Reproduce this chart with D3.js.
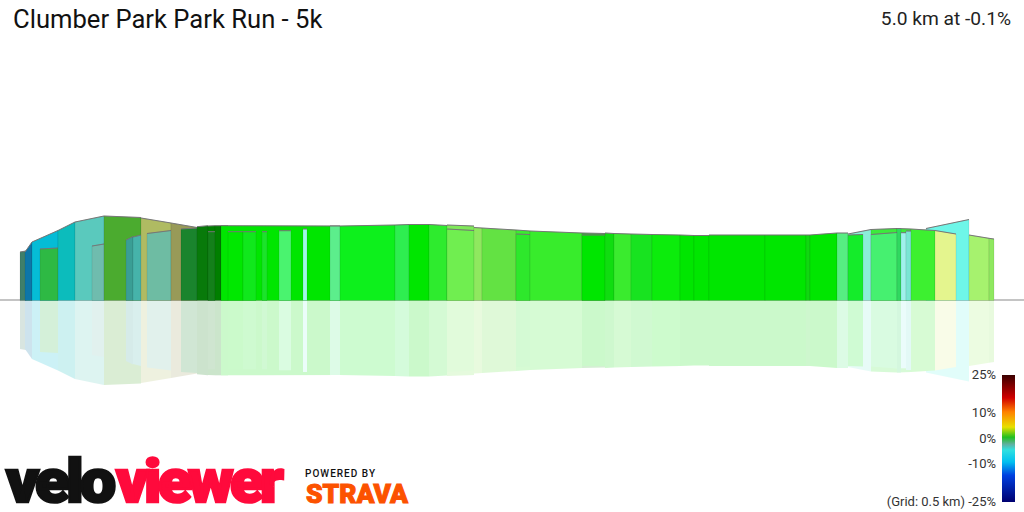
<!DOCTYPE html>
<html><head><meta charset="utf-8">
<script src="https://cdn.jsdelivr.net/npm/d3@7"></script>
<style>
@font-face{font-family:"LogoBlack";src:local("Roboto Black"),local("Roboto-Black"),local("Roboto");font-weight:900;ascent-override:75%;descent-override:5%;line-gap-override:0%}
html,body{margin:0;background:#fff}svg{display:block}text,div{font-family:Roboto,sans-serif}
.logo{position:absolute;white-space:nowrap;transform-origin:0 50%;font-family:"LogoBlack",Roboto,sans-serif;font-weight:900;font-size:60px;line-height:50px;height:50px}</style>
</head><body><svg id="c" width="1024" height="512"></svg>
<script>
// Panels, back to front. Positions are along-route units, heights in profile units.
const panelStart = [926,20,26,25,32,40,58,75,92,104,126,133,141,147,171,181,197,208,208,215,221,221,228,243,262,279,303,330,340,395,409,429,447,447,474,482,516,516,530,582,582,605,614,631,652,680,694,709,765,806,810,837,848,848,871,871,897,897,901,906,911,935,969,989];
const panelEnd   = [969,26,32,32,58,58,75,104,104,141,133,141,171,171,197,197,208,215,215,221,228,340,243,256,267,291,307,340,395,409,429,447,474,474,482,516,530,530,582,605,605,614,631,652,680,694,709,765,806,810,837,848,871,863,897,897,911,901,906,911,935,956,989,994];
const topStart   = [72,48.5,49.5,48.5,58.5,51.5,70,78.5,54.5,84.5,60.5,63.5,82.5,67,77.5,71.5,73.8,74.5,68.8,74.8,74.8,74.8,68.8,68.8,68.8,69.8,71.5,74.5,74.5,75.5,76,76,75.5,71.5,73,72.5,70.5,66.5,69.5,67.5,65.5,67.5,67,66.5,66,65.5,65,65.5,65.5,65.5,65.5,67.5,66.5,65.5,71,66,72,72,67.8,69.5,71.5,70,65.5,62.2];
const topEnd     = [81,49.5,50.5,58.5,70,52.5,78.5,84.5,56.5,83,64,65.5,77.5,70,73,72.5,74.8,74.8,68.8,74.8,74.8,74.5,68.8,68.8,68.8,69.8,71.5,74.5,75.5,76,76,75,74.5,70,72.5,70.5,69.5,66,67.5,67,65.5,67,66.5,66,65.5,65,65,65.5,65.5,65.5,67.5,67.5,71,66,72,68,71.5,72,67.8,69.5,70,66.5,62.2,61.5];
const panelColor = ["#6ef6e8","#3f7f6a","#3dbb5f","#0d76a8","#05bcd6","#2eb944","#0cbcbc","#5ac9bd","#6fbcae","#4bab2f","#3a9e95","#46b3aa","#afbb62","#6ebca3","#989a58","#1a842d","#087a0a","#007f00","#13801a","#007f00","#00c900","#00e600","#00e800","#10e81c","#1be42a","#4af36f","#a0f8e8","#5cee8c","#0df01c","#2eee50","#00e600","#2eeb2e","#80e85a","#70ee50","#8fe85f","#63e243","#3aed2e","#2ee82c","#38ec2c","#2db32b","#00e600","#10dd10","#3aeb2e","#18e320","#0cec0c","#00e600","#00e600","#00e600","#00e600","#10d810","#00e600","#56ee82","#8aeed8","#14ec2a","#3cea3c","#46f070","#3cea3c","#30d860","#a0f2ec","#7ae6d4","#3df030","#e4f58e","#a6f26e","#8fe860"];

const legendValues = ["25%","10%","0%","-10%","(Grid: 0.5 km) -25%"];
const legendShare  = [0,0.30,0.50,0.70,1];
const barOffsets = [0,0.18,0.29,0.41,0.49,0.545,0.59,0.685,0.79,1];
const barColors  = ["#3a0000","#d00000","#ff8000","#e8e000","#20c020","#60b0a0","#30e0e0","#00c0f0","#0040e0","#000070"];

const titleText = "Clumber Park Park Run - 5k";
const summaryText = "5.0 km at -0.1%";

const svg = d3.select("#c");
const x = d3.scaleLinear().domain([0,1024]).range([0,1024]);
const yUp = d3.scaleLinear().domain([0,100]).range([300.5,200.5]);
const yDown = d3.scaleLinear().domain([0,100]).range([300.5,400.5]);

const panels = panelStart.map((s,i)=>({s,e:panelEnd[i],a:topStart[i],b:topEnd[i],c:panelColor[i]}));
const outline = (p,y)=>d3.line()([[x(p.s),y(0)],[x(p.s),y(p.a)],[x(p.e),y(p.b)],[x(p.e),y(0)]])+"Z";

// reflection
const refl = svg.append("g").attr("opacity",0.2);
refl.selectAll("path").data(panels).join("path").attr("d",p=>outline(p,yDown)).attr("fill",p=>p.c);

// baseline
svg.append("rect").attr("x",0).attr("y",299).attr("width",1024).attr("height",2).attr("fill","#c4c4c4");

// panels
const g = svg.append("g");
panels.forEach(p=>{
  g.append("path").attr("d",outline(p,yUp)).attr("fill",p.c)
    .attr("stroke","rgba(0,0,0,0.08)").attr("stroke-width",1);
  g.append("path").attr("d",d3.line()([[x(p.s),yUp(p.a)],[x(p.e),yUp(p.b)]]))
    .attr("stroke","#777").attr("stroke-width",1).attr("fill","none");
});

// title
svg.append("text").attr("x",13).attr("y",28).attr("font-size",25.6).attr("fill","#111").text(titleText);
svg.append("text").attr("x",1011).attr("y",25).attr("text-anchor","end").attr("font-size",19.2).attr("fill","#222").text(summaryText);

// colour bar
const defs = svg.append("defs");
const grad = defs.append("linearGradient").attr("id","bar").attr("x1",0).attr("x2",0).attr("y1",0).attr("y2",1);
barOffsets.forEach((o,i)=>grad.append("stop").attr("offset",o).attr("stop-color",barColors[i]));
const yBar = d3.scaleLinear().domain([0,1]).range([375,502]);
svg.append("rect").attr("x",1002).attr("y",yBar(0)).attr("width",13).attr("height",yBar(1)-yBar(0)).attr("fill","url(#bar)");
legendValues.forEach((t,i)=>{
  svg.append("text").attr("x",996).attr("y",yBar(legendShare[i])+4).attr("text-anchor","end")
    .attr("font-size",13).attr("fill","#333").text(t);
});

// logos
function logo(t,left,width,col){
  const d = d3.select("body").append("div").attr("class","logo").text(t)
    .style("left",left+"px").style("top","456px").style("color",col)
    .style("letter-spacing","-4px").style("-webkit-text-stroke","2.5px "+col);
  const fit = ()=>{
    d.style("transform",null);
    const w = d.node().getBoundingClientRect().width;
    d.style("transform","scaleX("+(width/w)+")");
  };
  fit();
  if(document.fonts && document.fonts.ready) document.fonts.ready.then(fit);
}
logo("velo",6,106,"#111");
logo("viewer",116,164,"#ff0a3c");
svg.append("text").attr("x",305).attr("y",477).attr("font-size",10).attr("font-weight",500).attr("fill","#111")
  .attr("textLength",70).attr("lengthAdjust","spacing").text("POWERED BY");
svg.append("text").attr("x",306).attr("y",503).attr("font-size",25).attr("font-weight",900).attr("fill","#fc5200")
  .attr("stroke","#fc5200").attr("stroke-width",1)
  .attr("textLength",102).attr("lengthAdjust","spacingAndGlyphs").text("STRAVA");
</script></body></html>
